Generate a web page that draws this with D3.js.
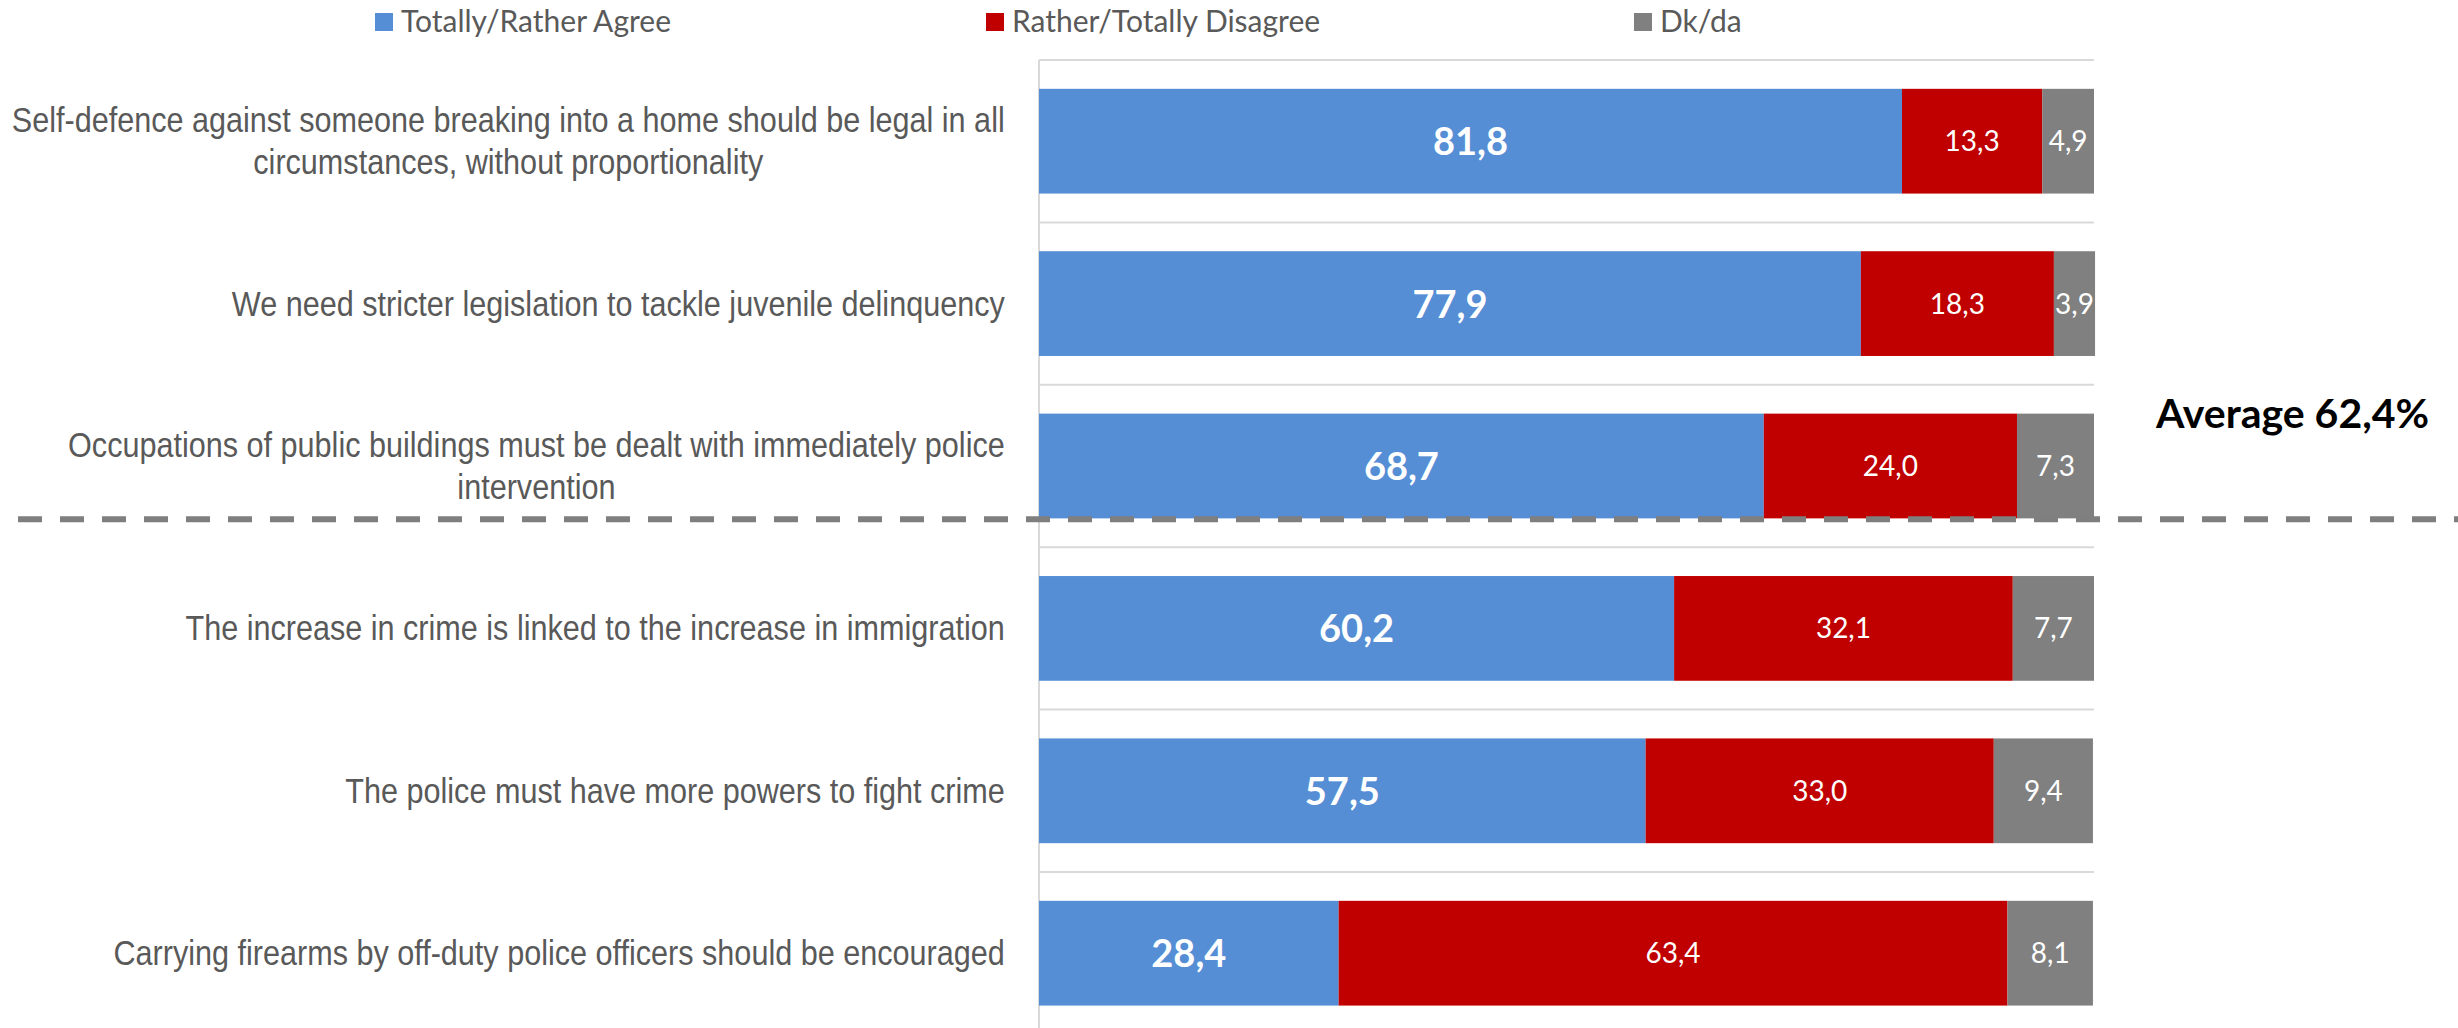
<!DOCTYPE html>
<html>
<head>
<meta charset="utf-8">
<script src="https://cdnjs.cloudflare.com/ajax/libs/d3/7.8.5/d3.min.js"></script>
<style>
  html, body { margin: 0; padding: 0; background: #fff; }
  svg { display: block; }
</style>
</head>
<body>
<svg id="chart" width="2458" height="1028"></svg>
<script>
// ---------------- data ----------------
const categories = [
  "Self-defence against someone breaking into a home should be legal in all circumstances, without proportionality",
  "We need stricter legislation to tackle juvenile delinquency",
  "Occupations of public buildings must be dealt with immediately police intervention",
  "The increase in crime is linked to the increase in immigration",
  "The police must have more powers to fight crime",
  "Carrying firearms by off-duty police officers should be encouraged"
];
const agree    = [81.8, 77.9, 68.7, 60.2, 57.5, 28.4];
const disagree = [13.3, 18.3, 24.0, 32.1, 33.0, 63.4];
const dkda     = [4.9, 3.9, 7.3, 7.7, 9.4, 8.1];
const seriesNames = ["Totally/Rather Agree", "Rather/Totally Disagree", "Dk/da"];
const seriesKeys = ["agree", "disagree", "dkda"];
const averageValue = 62.4;
const averageAfterIndex = 2; // dashed line drawn below the 3rd statement

// ---------------- setup ----------------
const colors = { agree: "#558ED5", disagree: "#C00000", dkda: "#808080" };
const labelColor = "#595959";
const W = 2458, H = 1028;
const svg = d3.select("#chart");

const plotLeft = 1039, plotRight = 2094, plotTop = 60, band = 162.4;
const x = d3.scaleLinear().domain([0, 100]).range([plotLeft, plotRight]);
const y = d3.scaleBand().domain(categories)
  .range([plotTop, plotTop + band * categories.length])
  .paddingInner(0.355).paddingOuter(0.1775);

const rows = categories.map((c, i) => ({ cat: c, agree: agree[i], disagree: disagree[i], dkda: dkda[i] }));
const stacked = d3.stack().keys(seriesKeys)(rows);

// gridlines at band boundaries
const bounds = d3.range(categories.length + 1).map(i => plotTop + i * band);
svg.append("g").selectAll("line").data(bounds).join("line")
  .attr("x1", x(0)).attr("x2", x(100))
  .attr("y1", d => d).attr("y2", d => d)
  .attr("stroke", "#d9d9d9").attr("stroke-width", 2);

// vertical axis line
svg.append("line")
  .attr("x1", x(0)).attr("x2", x(0))
  .attr("y1", plotTop).attr("y2", H)
  .attr("stroke", "#d9d9d9").attr("stroke-width", 2);

// bars
const gBars = svg.append("g");
stacked.forEach(s => {
  gBars.append("g").attr("fill", colors[s.key])
    .selectAll("rect").data(s).join("rect")
    .attr("x", d => x(d[0]))
    .attr("width", d => x(d[1]) - x(d[0]))
    .attr("y", d => y(d.data.cat))
    .attr("height", y.bandwidth());
});

// value labels
const fmt = v => d3.format(".1f")(v).replace(".", ",");
stacked.forEach(s => {
  const big = s.key === "agree";
  gBars.append("g").selectAll("text").data(s).join("text")
    .attr("x", d => (x(d[0]) + x(d[1])) / 2)
    .attr("y", d => y(d.data.cat) + y.bandwidth() / 2 + (big ? 14 : 10))
    .attr("text-anchor", "middle")
    .attr("fill", "#fff")
    .attr("font-family", "Lato, 'Open Sans', sans-serif")
    .attr("font-weight", big ? 700 : 400)
    .attr("font-size", big ? 38 : 28)
    .text(d => fmt(d[1] - d[0]));
});

// category labels (condensed Arial-like, right-aligned block with centered lines)
const kx = 0.85, labFont = 36, lineH = 42, maxW = 1000, blockRight = 1005;
const gLab = svg.append("g");
const measurer = svg.append("text")
  .attr("font-family", "'Liberation Sans', Arial, sans-serif")
  .attr("font-size", labFont).attr("visibility", "hidden");
const mw = t => { measurer.text(t); return measurer.node().getComputedTextLength() * kx; };
categories.forEach(cat => {
  const words = cat.split(" ");
  const lines = [];
  let cur = "";
  words.forEach(w => {
    const t = cur ? cur + " " + w : w;
    if (mw(t) > maxW && cur) { lines.push(cur); cur = w; } else cur = t;
  });
  lines.push(cur);
  const widths = lines.map(mw);
  const bw = d3.max(widths);
  const cx = blockRight - bw / 2;
  const cy = y(cat) + y.bandwidth() / 2;
  lines.forEach((ln, i) => {
    const by = cy + (i - (lines.length - 1) / 2) * lineH + 12;
    gLab.append("text")
      .attr("transform", `translate(${cx},${by}) scale(${kx},1)`)
      .attr("text-anchor", "middle")
      .attr("font-family", "'Liberation Sans', Arial, sans-serif")
      .attr("font-size", labFont)
      .attr("fill", labelColor)
      .text(ln);
  });
});
measurer.remove();

// dashed average separator
const sepY = y(categories[averageAfterIndex]) + y.bandwidth() + 1;
svg.append("line")
  .attr("x1", 18).attr("x2", W)
  .attr("y1", sepY).attr("y2", sepY)
  .attr("stroke", "#7f7f7f").attr("stroke-width", 6)
  .attr("stroke-dasharray", "24,18");

svg.append("text")
  .attr("x", 2156).attr("y", 428)
  .attr("font-family", "Lato, 'Open Sans', sans-serif")
  .attr("font-weight", 700).attr("font-size", 41)
  .attr("fill", "#000")
  .text("Average " + fmt(averageValue) + "%");

// legend
const legendX = [375, 986, 1634];
const gLeg = svg.append("g");
seriesKeys.forEach((k, i) => {
  gLeg.append("rect").attr("x", legendX[i]).attr("y", 13).attr("width", 18).attr("height", 18)
    .attr("fill", colors[k]);
  gLeg.append("text").attr("x", legendX[i] + 26).attr("y", 32)
    .attr("font-family", "Lato, 'Open Sans', sans-serif")
    .attr("font-size", 30).attr("fill", labelColor)
    .text(seriesNames[i]);
});
</script>
</body>
</html>
